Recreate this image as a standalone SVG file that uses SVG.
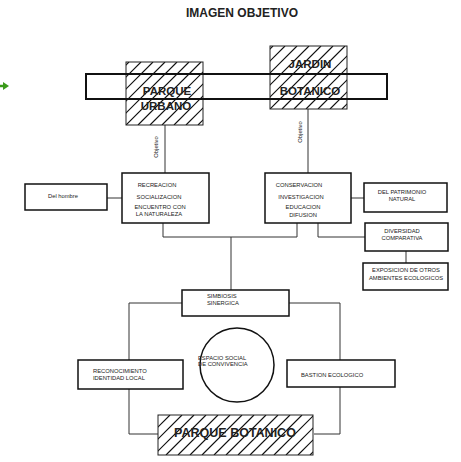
<svg xmlns="http://www.w3.org/2000/svg" width="461" height="462" viewBox="0 0 461 462">
<defs>
<clipPath id="cpu"><rect x="126" y="62" width="77" height="63"/></clipPath>
<clipPath id="cjb"><rect x="270" y="46" width="77" height="63"/></clipPath>
<clipPath id="cpb"><rect x="158" y="415" width="155" height="40"/></clipPath>
<style>
.box{fill:#fff;stroke:#111;stroke-width:1.5}
.hb{fill:none;stroke:#222;stroke-width:1}
.h{fill:none;stroke:#111;stroke-width:1.2}
.ln{fill:none;stroke:#333;stroke-width:1}
.t{font-family:"Liberation Sans",Arial,sans-serif;font-size:5.8px;fill:#222}
.tc{text-anchor:middle}
.big{font-family:"Liberation Sans",Arial,sans-serif;font-weight:bold;fill:#222;text-anchor:middle}
</style>
</defs>
<rect width="461" height="462" fill="#fff"/>
<text class="big" x="242" y="17" font-size="12">IMAGEN OBJETIVO</text>
<g id="green-arrow">
<line x1="0" y1="86" x2="4" y2="86" stroke="#3a9a1a" stroke-width="2.5"/>
<polygon points="3,82 9,86 3,90" fill="#3a9a1a"/>
</g>
<g id="connectors">
<path class="ln" d="M165,125 V173"/>
<path class="ln" d="M308,109 V173"/>
<path class="ln" d="M107,198 H122"/>
<path class="ln" d="M351,198 H364"/>
<path class="ln" d="M163,223 V237 H297 V223"/>
<path class="ln" d="M318,223 V237 H365"/>
<path class="ln" d="M406,251 V263"/>
<path class="ln" d="M231,237 V290"/>
<path class="ln" d="M182,303 H129 V360"/>
<path class="ln" d="M289,303 H340 V360"/>
<path class="ln" d="M129,389 V434 H158"/>
<path class="ln" d="M340,387 V434 H314"/>
<text class="t tc" font-size="4.5" transform="translate(158,147) rotate(-90)">Objetivo</text>
<text class="t tc" font-size="4.5" transform="translate(302,132) rotate(-90)">Objetivo</text>
</g>
<g id="parque-urbano">
<path class="h" clip-path="url(#cpu)" d="M66,125l63,-63M78,125l63,-63M90,125l63,-63M102,125l63,-63M114,125l63,-63M126,125l63,-63M138,125l63,-63M150,125l63,-63M162,125l63,-63M174,125l63,-63M186,125l63,-63M198,125l63,-63"/>
<rect class="hb" x="126" y="62" width="77" height="63"/>
<text class="big" x="167" y="95" font-size="11.5">PARQUE</text>
<text class="big" x="166" y="110" font-size="11.5">URBANO</text>
</g>
<g id="jardin-botanico">
<path class="h" clip-path="url(#cjb)" d="M210,109l63,-63M222,109l63,-63M234,109l63,-63M246,109l63,-63M258,109l63,-63M270,109l63,-63M282,109l63,-63M294,109l63,-63M306,109l63,-63M318,109l63,-63M330,109l63,-63M342,109l63,-63"/>
<rect class="hb" x="270" y="46" width="77" height="63"/>
<text class="big" x="310" y="68" font-size="11.5">JARDIN</text>
<text class="big" x="310" y="95" font-size="11.5">BOTANICO</text>
</g>
<g id="banda">
<rect x="86" y="74" width="301" height="25" fill="none" stroke="#111" stroke-width="2"/>
</g>
<g id="del-hombre">
<rect class="box" x="25" y="184" width="82" height="26"/>
<text class="t tc" x="63" y="198">Del hombre</text>
</g>
<g id="recreacion">
<rect class="box" x="122" y="173" width="87" height="50"/>
<text class="t tc" x="157" y="187">RECREACION</text>
<text class="t tc" x="159" y="199">SOCIALIZACION</text>
<text class="t tc" x="160" y="209">ENCUENTRO CON</text>
<text class="t tc" x="159" y="216">LA NATURALEZA</text>
</g>
<g id="conservacion">
<rect class="box" x="265" y="173" width="86" height="50"/>
<text class="t tc" x="299" y="187">CONSERVACION</text>
<text class="t tc" x="301" y="199">INVESTIGACION</text>
<text class="t tc" x="303" y="209">EDUCACION</text>
<text class="t tc" x="303" y="217">DIFUSION</text>
</g>
<g id="patrimonio">
<rect class="box" x="364" y="183" width="83" height="29"/>
<text class="t tc" x="402" y="194">DEL PATRIMONIO</text>
<text class="t tc" x="402" y="201">NATURAL</text>
</g>
<g id="diversidad">
<rect class="box" x="365" y="223" width="83" height="28"/>
<text class="t tc" x="402" y="233">DIVERSIDAD</text>
<text class="t tc" x="402" y="240">COMPARATIVA</text>
</g>
<g id="exposicion">
<rect class="box" x="363" y="263" width="85" height="27"/>
<text class="t tc" x="406" y="272">EXPOSICION DE OTROS</text>
<text class="t tc" x="406" y="280">AMBIENTES ECOLOGICOS</text>
</g>
<g id="simbiosis">
<rect class="box" x="182" y="290" width="107" height="26"/>
<text class="t" x="207" y="298" font-size="5">SIMBIOSIS</text>
<text class="t" x="207" y="305" font-size="5">SINERGICA</text>
</g>
<g id="reconocimiento">
<rect class="box" x="78" y="360" width="105" height="29"/>
<text class="t" x="93" y="373">RECONOCIMIENTO</text>
<text class="t" x="93" y="380">IDENTIDAD LOCAL</text>
</g>
<g id="espacio-social">
<circle cx="237" cy="365" r="37" fill="#fff" stroke="#111" stroke-width="1.5"/>
<text class="t" x="198" y="360" font-size="5.5">ESPACIO SOCIAL</text>
<text class="t" x="198" y="366" font-size="5.5">DE CONVIVENCIA</text>
</g>
<g id="bastion">
<rect class="box" x="287" y="360" width="108" height="27"/>
<text class="t" x="301" y="377">BASTION ECOLOGICO</text>
</g>
<g id="parque-botanico">
<rect x="158" y="415" width="155" height="40" fill="#fff"/>
<path class="h" clip-path="url(#cpb)" d="M118,455l40,-40M130,455l40,-40M142,455l40,-40M154,455l40,-40M166,455l40,-40M178,455l40,-40M190,455l40,-40M202,455l40,-40M214,455l40,-40M226,455l40,-40M238,455l40,-40M250,455l40,-40M262,455l40,-40M274,455l40,-40M286,455l40,-40M298,455l40,-40M310,455l40,-40"/>
<rect class="hb" x="158" y="415" width="155" height="40"/>
<text class="big" x="235" y="437" font-size="12.5">PARQUE BOTANICO</text>
</g>
</svg>
